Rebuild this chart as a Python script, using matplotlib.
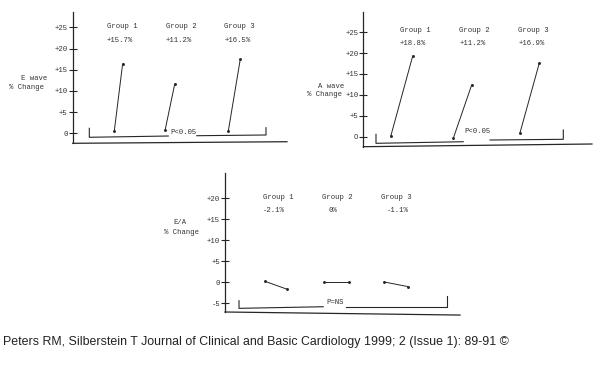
import matplotlib
matplotlib.use("Agg")
import matplotlib.pyplot as plt

# ---------------- data ----------------
groups = ["Group 1", "Group 2", "Group 3"]

e_pct_labels = ["+15.7%", "+11.2%", "+16.5%"]
e_pre = [0.5, 0.7, 0.5]
e_post = [16.4, 11.6, 17.5]

a_pct_labels = ["+18.8%", "+11.2%", "+16.9%"]
a_pre = [0.1, -0.3, 0.9]
a_post = [19.3, 12.4, 17.7]

ea_pct_labels = ["-2.1%", "0%", "-1.1%"]
ea_pre = [0.24, 0.17, 0.07]
ea_post = [-1.6, 0.17, -1.0]

e_ticks = [0, 5, 10, 15, 20, 25]
e_ticklabels = ["0", "+5", "+10", "+15", "+20", "+25"]
a_ticks = [0, 5, 10, 15, 20, 25]
a_ticklabels = ["O", "+5", "+10", "+15", "+20", "+25"]
ea_ticks = [-5, 0, 5, 10, 15, 20]
ea_ticklabels = ["-5", "0", "+5", "+10", "+15", "+20"]

e_ylabel = ["E wave", "% Change"]
a_ylabel = ["A wave", "% Change"]
ea_ylabel = ["E/A", "% Change"]

e_p = "P<0.05"
a_p = "P<0.05"
ea_p = "P=NS"

caption = ("Peters RM, Silberstein T Journal of Clinical and Basic Cardiology "
           "1999; 2 (Issue 1): 89-91 \u00a9")

# ---------------- layout ----------------
W, H = 600, 391
fig = plt.figure(figsize=(W / 100, H / 100), dpi=100)
fig.patch.set_facecolor("white")

INK = "#262626"
TXT = "#333333"
MONO = ["Liberation Mono", "DejaVu Sans Mono"]
FS = 5.2

panels = [
    dict(box=(72.7, 287, 11.7, 143.3), ylim=(-2.36, 28.7), slope=0.012,
         ticks=e_ticks, ticklabels=e_ticklabels,
         pre=e_pre, post=e_post, labels=e_pct_labels,
         x_pre=[0.194, 0.431, 0.726], x_post=[0.233, 0.476, 0.782],
         gx=[0.159, 0.434, 0.708], px=[0.159, 0.434, 0.708],
         gy=26.7, py=41.0,
         ylab=e_ylabel, ylab_pos=[(47, 78.3), (44, 87.7)],
         ptxt=e_p, ptxt_pos=(0.457, 0.24),
         lbr=[(0.0775, 1.18), (0.0775, -0.94), (0.446, -0.64)],
         rbr=[(0.579, -0.57), (0.902, -0.40), (0.902, 1.32)]),
    dict(box=(363.3, 592, 11.7, 146.7), ylim=(-2.39, 29.9), slope=0.02,
         ticks=a_ticks, ticklabels=a_ticklabels,
         pre=a_pre, post=a_post, labels=a_pct_labels,
         x_pre=[0.120, 0.394, 0.685], x_post=[0.216, 0.474, 0.770],
         gx=[0.1605, 0.420, 0.678], px=[0.1605, 0.420, 0.678],
         gy=31.0, py=43.3,
         ylab=a_ylabel, ylab_pos=[(344, 86), (342, 95)],
         ptxt=a_p, ptxt_pos=(0.4416, 1.36),
         lbr=[(0.0555, 0.57), (0.0555, -1.58), (0.437, -1.2)],
         rbr=[(0.554, -0.79), (0.8745, -0.62), (0.8745, 1.6)]),
    dict(box=(225, 460, 173, 312), ylim=(-7.05, 25.96), slope=-0.022,
         ticks=ea_ticks, ticklabels=ea_ticklabels,
         pre=ea_pre, post=ea_post, labels=ea_pct_labels,
         x_pre=[0.170, 0.421, 0.678], x_post=[0.262, 0.528, 0.777],
         gx=[0.160, 0.411, 0.663], px=[0.163, 0.440, 0.688],
         gy=197.7, py=210.0,
         ylab=ea_ylabel, ylab_pos=[(187, 222), (199, 232)],
         ptxt=ea_p, ptxt_pos=(0.433, -4.75),
         lbr=[(0.0596, -4.37), (0.0596, -6.18), (0.418, -5.8)],
         rbr=[(0.514, -5.8), (0.943, -5.8), (0.943, -3.25)]),
]

for p in panels:
    l, r, t, b = p["box"]
    ax = fig.add_axes([l / W, 1 - b / H, (r - l) / W, (b - t) / H])
    ax.set_facecolor("none")
    ax.set_xlim(0, 1)
    ax.set_ylim(*p["ylim"])
    for s in ("top", "right", "bottom"):
        ax.spines[s].set_visible(False)
    ax.spines["left"].set_color(INK)
    ax.spines["left"].set_linewidth(0.9)
    ax.set_xticks([])
    ax.set_yticks(p["ticks"])
    ax.set_yticklabels(p["ticklabels"], fontfamily=MONO, fontsize=FS, color=TXT)
    ax.tick_params(axis="y", direction="inout", length=6, width=0.8,
                   color=INK, pad=0.5)
    # hand-drawn, slightly sloped baseline
    ax.plot([0, 1], [0, p["slope"]], transform=ax.transAxes, color=INK,
            lw=0.9, clip_on=False)

    # pre -> post change lines
    for xs, xe, y0, y1 in zip(p["x_pre"], p["x_post"], p["pre"], p["post"]):
        ax.plot([xs, xe], [y0, y1], color=INK, lw=0.7, solid_capstyle="round")
        ax.plot([xs, xe], [y0, y1], ls="none", marker="o", ms=1.1,
                color=INK)

    # group titles and percentage labels
    for gx, px, g, lab in zip(p["gx"], p["px"], groups, p["labels"]):
        fig.text(l / W + gx * (r - l) / W, 1 - p["gy"] / H, g,
                 fontfamily=MONO, fontsize=FS, color=TXT,
                 ha="left", va="center")
        fig.text(l / W + px * (r - l) / W, 1 - p["py"] / H, lab,
                 fontfamily=MONO, fontsize=FS, color=TXT,
                 ha="left", va="center")

    # brackets
    xs_, ys_ = zip(*p["lbr"])
    ax.plot(xs_, ys_, color=INK, lw=0.8, clip_on=False)
    xs_, ys_ = zip(*p["rbr"])
    ax.plot(xs_, ys_, color=INK, lw=0.8, clip_on=False)
    ax.text(p["ptxt_pos"][0], p["ptxt_pos"][1], p["ptxt"], fontfamily=MONO,
            fontsize=FS, color=TXT, ha="left", va="center")

    # y label (two lines)
    for txt, (xp, yp) in zip(p["ylab"], p["ylab_pos"]):
        fig.text(xp / W, 1 - yp / H, txt, fontfamily=MONO, fontsize=FS,
                 color=TXT, ha="right", va="center")

fig.text(3 / W, 1 - 342.5 / H, caption,
         fontfamily=["Liberation Sans", "DejaVu Sans"],
         fontsize=8.95, color="#222222", ha="left", va="center")

fig.savefig("out.png", dpi=100, facecolor="white")
